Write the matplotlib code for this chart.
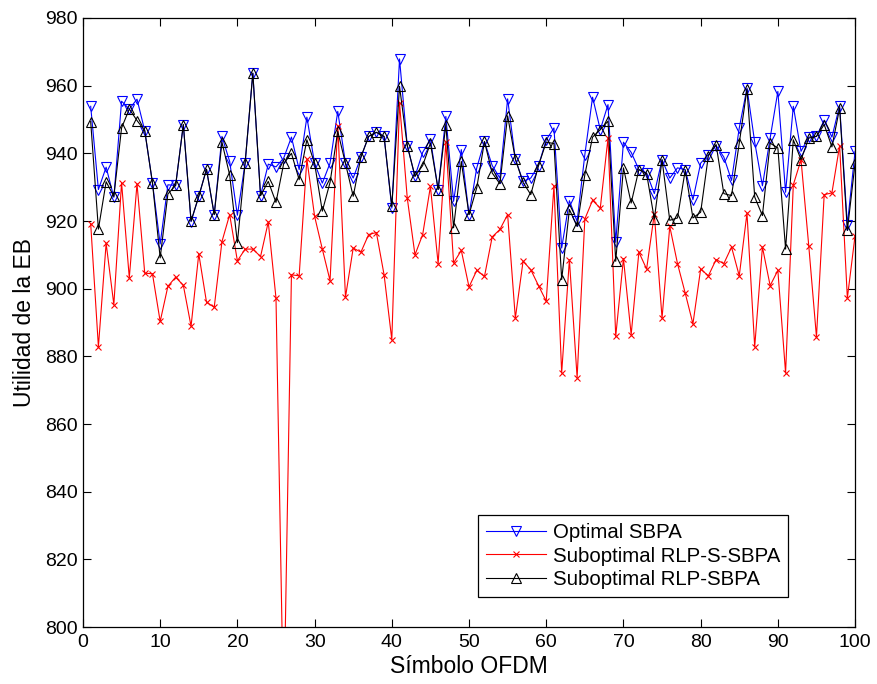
import numpy as np
import matplotlib
matplotlib.use("Agg")
import matplotlib.pyplot as plt

plt.rcParams['font.family'] = ['Liberation Sans', 'DejaVu Sans']

simbolo = np.arange(1, 101)

optimal_sbpa = [
    953.9, 929.3, 935.9, 927.0, 955.4, 953.1, 956.0, 946.7, 931.3, 913.2,
    930.7, 930.5, 948.5, 919.8, 927.3, 935.3, 921.9, 945.0, 937.6, 921.7,
    937.1, 963.7, 927.5, 936.8, 936.0, 938.6, 944.8, 935.2, 950.7, 937.0,
    931.2, 937.1, 952.4, 937.1, 932.7, 938.9, 945.0, 946.2, 945.0, 923.8,
    967.9, 942.3, 933.2, 940.3, 944.2, 929.3, 950.9, 925.8, 941.1, 921.9,
    935.7, 943.5, 936.4, 932.7, 956.1, 938.3, 931.7, 932.7, 936.4, 944.0,
    947.5, 912.0, 926.0, 919.9, 939.6, 956.6, 947.0, 954.4, 913.7, 943.3,
    940.3, 935.2, 934.2, 928.1, 938.1, 932.7, 935.7, 935.2, 926.3, 937.1,
    939.6, 942.3, 938.9, 932.0, 947.5, 959.3, 943.3, 930.4, 944.5, 958.3,
    928.5, 953.9, 940.6, 944.8, 945.0, 949.8, 944.8, 954.1, 918.9, 940.6,
]

rlp_s_sbpa = [
    919.2, 882.8, 913.4, 895.3, 931.3, 903.2, 931.0, 904.6, 904.4, 890.3,
    900.7, 903.4, 901.0, 888.9, 910.3, 896.0, 894.5, 913.9, 921.9, 908.2,
    911.7, 911.7, 909.5, 919.7, 897.2, 772.0, 904.1, 903.8, 938.3, 921.4,
    911.7, 902.4, 948.2, 897.5, 912.0, 910.8, 916.0, 916.6, 904.1, 884.9,
    954.9, 926.8, 910.0, 916.0, 930.2, 907.4, 943.3, 907.6, 911.3, 900.5,
    905.4, 903.6, 915.3, 917.5, 921.9, 891.3, 908.1, 905.6, 900.9, 896.3,
    930.4, 875.1, 908.6, 873.7, 920.6, 926.1, 923.8, 944.5, 885.9, 908.9,
    886.4, 910.8, 905.8, 922.1, 891.3, 918.4, 907.4, 898.7, 889.6, 905.8,
    903.8, 908.6, 907.4, 912.3, 903.8, 922.3, 882.8, 912.3, 900.9, 905.4,
    875.1, 930.7, 938.1, 912.7, 885.7, 927.8, 928.3, 942.3, 897.2, 915.7,
]

rlp_sbpa = [
    949.4, 917.6, 931.6, 927.3, 947.5, 953.1, 949.7, 946.7, 931.3, 909.1,
    928.0, 930.5, 948.5, 920.0, 927.3, 935.3, 921.9, 943.3, 933.6, 913.6,
    937.1, 963.7, 927.5, 931.7, 925.5, 937.0, 940.0, 932.2, 944.0, 937.0,
    922.9, 931.4, 946.5, 937.0, 927.3, 938.9, 945.0, 946.2, 945.0, 924.3,
    959.8, 942.3, 933.2, 936.4, 943.0, 929.3, 948.5, 918.0, 937.6, 921.9,
    929.8, 943.5, 934.2, 931.0, 951.1, 938.3, 931.4, 927.8, 936.4, 943.3,
    942.9, 902.7, 923.4, 918.4, 933.7, 944.8, 947.0, 949.5, 908.1, 935.7,
    925.3, 935.2, 934.0, 920.6, 938.1, 920.2, 920.9, 935.0, 920.9, 922.6,
    939.3, 942.6, 928.1, 927.5, 943.0, 959.0, 927.1, 921.6, 943.0, 941.6,
    911.7, 944.0, 938.1, 944.5, 945.0, 948.5, 941.9, 953.4, 917.2, 937.1,
]

fig = plt.figure(figsize=(8.77, 6.84), dpi=100)
ax = fig.add_axes([0.0946, 0.0833, 0.8804, 0.8904])

lw = 0.8
ax.plot(simbolo, optimal_sbpa, color='blue', lw=lw, marker='v', ms=7,
        mfc='none', mec='blue', mew=0.8, label='Optimal SBPA')
ax.plot(simbolo, rlp_s_sbpa, color='red', lw=lw, marker='x', ms=4.5,
        mec='red', mew=0.8, label='Suboptimal RLP-S-SBPA')
ax.plot(simbolo, rlp_sbpa, color='black', lw=lw, marker='^', ms=7,
        mfc='none', mec='black', mew=0.8, label='Suboptimal RLP-SBPA')

ax.set_xlim(0, 100)
ax.set_ylim(800, 980)
ax.set_xticks(np.arange(0, 101, 10))
ax.set_yticks(np.arange(800, 981, 20))
ax.tick_params(direction='in', length=6, width=0.8, labelsize=14,
               top=True, right=True)
ax.tick_params(axis='y', pad=4)
ax.tick_params(axis='x', pad=5)
for s in ax.spines.values():
    s.set_linewidth(0.9)

ax.set_xlabel('Símbolo OFDM', fontsize=16.5, labelpad=3)
ax.set_ylabel('Utilidad de la EB', fontsize=16.5, labelpad=6)

leg = ax.legend(loc='lower left', bbox_to_anchor=(0.512, 0.049),
                fontsize=14.7, fancybox=False, framealpha=1,
                edgecolor='black', borderpad=0.4, labelspacing=0.22,
                handlelength=2.9, handletextpad=0.35, borderaxespad=0)
leg.get_frame().set_linewidth(0.9)

fig.savefig('out.png', dpi=100)
